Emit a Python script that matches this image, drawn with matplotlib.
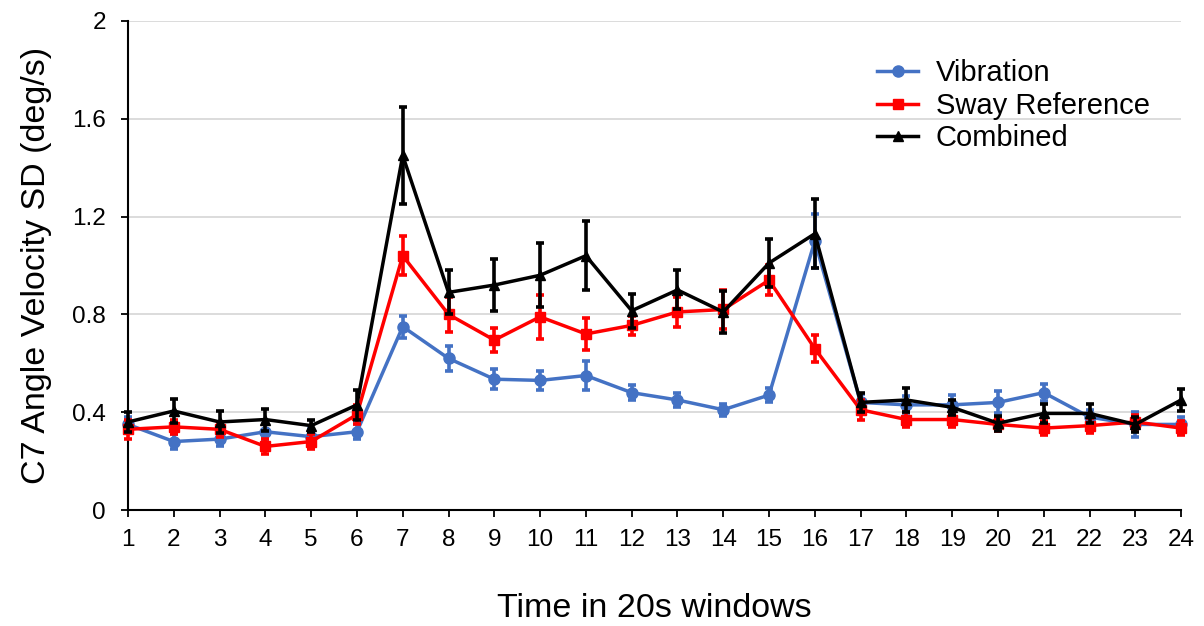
import numpy as np
import matplotlib.pyplot as plt
from matplotlib.lines import Line2D

plt.rcParams['font.family'] = ['Liberation Sans', 'DejaVu Sans']

windows = np.arange(1, 25)

vibration = [0.35, 0.28, 0.29, 0.32, 0.30, 0.32, 0.75, 0.62, 0.535, 0.53, 0.55, 0.48,
             0.45, 0.41, 0.47, 1.10, 0.44, 0.43, 0.43, 0.44, 0.48, 0.38, 0.35, 0.35]
vibration_err = [0.03, 0.03, 0.03, 0.03, 0.03, 0.03, 0.045, 0.05, 0.04, 0.04, 0.06, 0.03,
                 0.03, 0.025, 0.03, 0.11, 0.035, 0.035, 0.04, 0.045, 0.035, 0.03, 0.05, 0.03]

sway = [0.33, 0.34, 0.33, 0.26, 0.28, 0.39, 1.04, 0.80, 0.695, 0.79, 0.72, 0.755,
        0.81, 0.82, 0.94, 0.66, 0.41, 0.37, 0.37, 0.35, 0.335, 0.345, 0.36, 0.335]
sway_err = [0.04, 0.03, 0.03, 0.03, 0.03, 0.04, 0.08, 0.07, 0.05, 0.09, 0.065, 0.04,
            0.06, 0.08, 0.06, 0.055, 0.04, 0.03, 0.03, 0.025, 0.03, 0.03, 0.03, 0.03]

combined = [0.36, 0.405, 0.36, 0.37, 0.345, 0.43, 1.45, 0.89, 0.92, 0.96, 1.04, 0.815,
            0.90, 0.81, 1.01, 1.13, 0.44, 0.45, 0.42, 0.355, 0.395, 0.395, 0.35, 0.45]
combined_err = [0.04, 0.05, 0.045, 0.045, 0.025, 0.06, 0.2, 0.09, 0.105, 0.13, 0.14, 0.07,
                0.08, 0.085, 0.1, 0.14, 0.04, 0.05, 0.03, 0.03, 0.04, 0.04, 0.03, 0.045]

fig = plt.figure(figsize=(12.04, 6.26), dpi=100)
ax = fig.add_axes([0.1063, 0.1853, 0.8747, 0.7812])

series = [
    ('Vibration', vibration, vibration_err, '#4472C4', 'o', 8),
    ('Sway Reference', sway, sway_err, '#FF0000', 's', 6.5),
    ('Combined', combined, combined_err, 'black', '^', 6.5),
]
handles = []
for i, (name, vals, errs, col, mk, ms) in enumerate(series):
    ax.errorbar(windows, vals, yerr=errs, color=col, marker=mk, markersize=ms,
                linewidth=2.5, elinewidth=2.6, capsize=3, capthick=2.6,
                zorder=3 + i, clip_on=False)
    handles.append(Line2D([], [], color=col, marker=mk, markersize=ms, linewidth=2.5,
                          label=name))

ax.set_xlim(1, 24)
ax.set_ylim(0, 2)
ax.set_xticks(windows)
ax.set_yticks([0, 0.4, 0.8, 1.2, 1.6, 2.0])
ax.set_yticklabels(['0', '0.4', '0.8', '1.2', '1.6', '2'])
ax.yaxis.grid(True, color='#d9d9d9', linewidth=1.3)
ax.set_axisbelow(True)

for s in ['top', 'right']:
    ax.spines[s].set_visible(False)
for s in ['left', 'bottom']:
    ax.spines[s].set_linewidth(1.5)
    ax.spines[s].set_color('black')

ax.tick_params(axis='both', labelsize=17.5, width=1.3, length=5, direction='out')
ax.tick_params(axis='y', pad=11)
ax.tick_params(axis='x', pad=9)

ax.set_ylabel('C7 Angle Velocity SD (deg/s)', fontsize=24.5, labelpad=14)
ax.set_xlabel('Time in 20s windows', fontsize=24.5, labelpad=30)

ax.legend(handles=handles, loc='upper right', bbox_to_anchor=(0.995, 0.975),
          frameon=False, fontsize=21, handlelength=1.4, handletextpad=0.6,
          labelspacing=0.15)

fig.savefig('out.png', dpi=100)
